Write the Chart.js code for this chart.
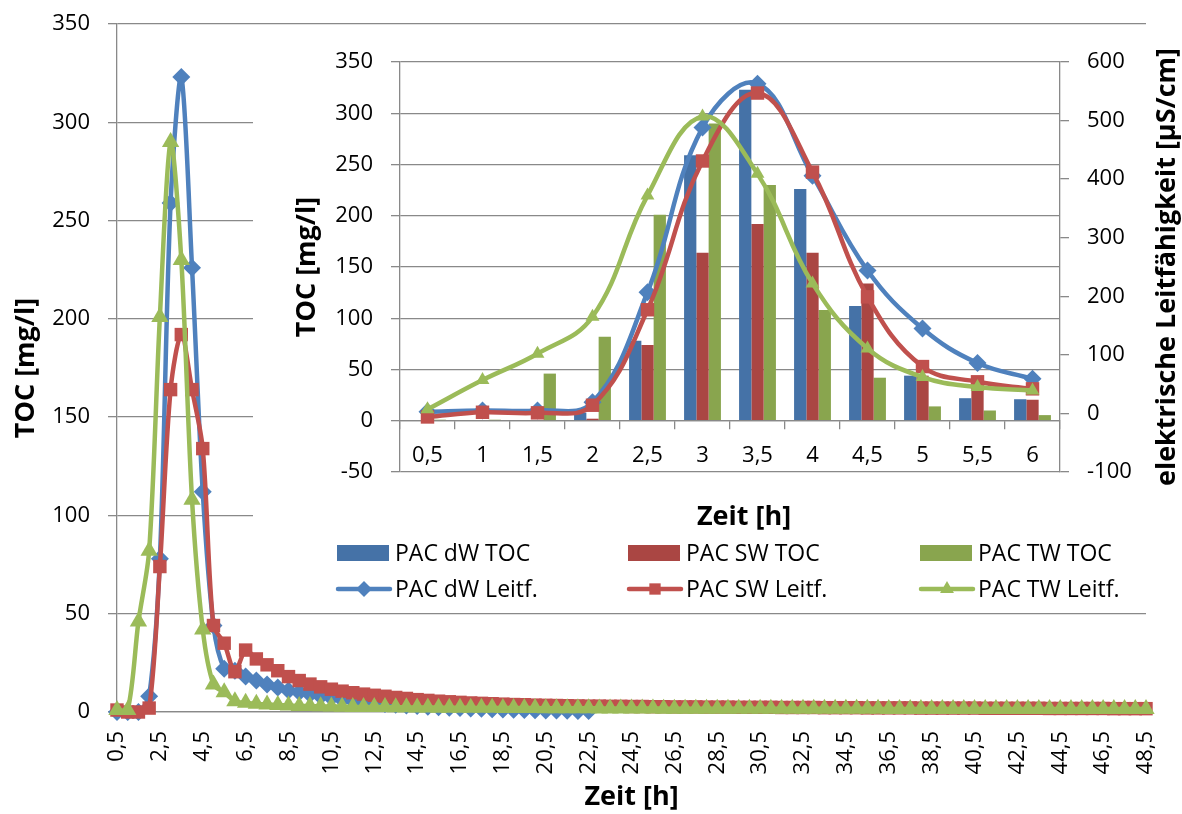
<!DOCTYPE html>
<html>
<head>
<meta charset="utf-8">
<script src="https://cdn.jsdelivr.net/npm/chart.js@4.4.0/dist/chart.umd.min.js"></script>
<style>
  html, body { margin: 0; padding: 0; background: #fff; }
  #wrap { position: relative; width: 1182px; height: 814px; overflow: hidden; }
  #outer { position: absolute; left: 0; top: 0; }
  #inset { position: absolute; left: 253px; top: 30px; background: #fff; }
</style>
</head>
<body>
<div id="wrap">
  <canvas id="outer" width="1182" height="814"></canvas>
  <canvas id="inset" width="929" height="578"></canvas>
</div>
<script>
// Zeit [h], 0,5 ... 48,5
var hours = [0.5,1,1.5,2,2.5,3,3.5,4,4.5,5,5.5,6,6.5,7,7.5,8,8.5,9,9.5,10,
  10.5,11,11.5,12,12.5,13,13.5,14,14.5,15,15.5,16,16.5,17,17.5,18,18.5,19,19.5,20,
  20.5,21,21.5,22,22.5,23,23.5,24,24.5,25,25.5,26,26.5,27,27.5,28,28.5,29,29.5,30,
  30.5,31,31.5,32,32.5,33,33.5,34,34.5,35,35.5,36,36.5,37,37.5,38,38.5,39,39.5,40,
  40.5,41,41.5,42,42.5,43,43.5,44,44.5,45,45.5,46,46.5,47,47.5,48,48.5];

// TOC [mg/l]
var tocDW = [0,0,0,8,78,259,323,226,112,44,
  22,21,18,16,14,12.5,11,10,9,8,
  7.2,6.4,5.7,5.1,4.6,4.1,3.7,3.3,3,2.7,
  2.4,2.2,2,1.8,1.6,1.4,1.3,1.1,1,0.9,
  0.8,0.7,0.6,0.5,0.5,null,null,null,null,null,
  null,null,null,null,null,null,null,null,null,null,
  null,null,null,null,null,null,null,null,null,null,
  null,null,null,null,null,null,null,null,null,null,
  null,null,null,null,null,null,null,null,null,null,
  null,null,null,null,null,null,null];
var tocSW = [1,0,0,2,74,164,192,164,134,44,
  35,20.5,31.5,27,24,21,18,16,14.2,12.8,
  11.6,10.6,9.8,9.1,8.5,8,7.4,6.9,6.3,5.9,
  5.5,5.2,4.9,4.6,4.4,4.2,4,3.8,3.7,3.5,
  3.4,3.3,3.2,3.1,3,3,2.9,2.9,2.8,2.8,
  2.7,2.7,2.6,2.6,2.6,2.5,2.5,2.5,2.4,2.4,
  2.4,2.4,2.3,2.3,2.3,2.3,2.2,2.2,2.2,2.2,
  2.1,2.1,2.1,2.1,2.1,2,2,2,2,2,
  2,1.9,1.9,1.9,1.9,1.9,1.9,1.8,1.8,1.8,
  1.8,1.8,1.8,1.7,1.7,1.7,1.7];
var tocTW = [1,1,46,82,201,290,230,108,42,14,
  10,5.5,4.7,4.2,3.8,3.5,3.3,3.1,3,2.9,
  2.8,2.7,2.6,2.6,2.5,2.5,2.4,2.4,2.3,2.3,
  2.2,2.2,2.2,2.1,2.1,2.1,2,2,2,2,
  1.9,1.9,1.9,1.9,1.9,1.8,1.8,1.8,1.8,1.8,
  1.8,1.7,1.7,1.7,1.7,1.7,1.7,1.7,1.6,1.6,
  1.6,1.6,1.6,1.6,1.6,1.6,1.6,1.6,1.6,1.6,
  1.6,1.6,1.5,1.5,1.5,1.5,1.5,1.5,1.5,1.5,
  1.5,1.5,1.5,1.5,1.5,1.5,1.5,1.5,1.5,1.5,
  1.5,1.5,1.5,1.5,1.5,1.5,1.5];

// inset: first 6 hours
var insetHours = [0.5,1,1.5,2,2.5,3,3.5,4,4.5,5,5.5,6];
// elektrische Leitfaehigkeit [uS/cm]
var leitDW = [3,5,5,19,207,488,563,406,244,145,86,59];
var leitSW = [-6,2,1,14,177,431,547,412,199,80,54,42];
var leitTW = [7,57,102,165,372,507,409,222,111,62,45,39];

var BLUE = '#4F81BD', RED = '#C0504D', GREEN = '#9BBB59';
var BAR_BLUE = '#4572A7', BAR_RED = '#AA4643', BAR_GREEN = '#89A54E';
var GRID = '#898989';

Chart.defaults.font.family = '"Open Sans", sans-serif';
Chart.defaults.color = '#000';

var tickFont = { size: 22 };
var titleFont = { size: 27, weight: 'bold' };

function de(v) { return String(v).replace('.', ','); }

// fixed axis sizes, no extra label padding pushed into the layout
function fixY(w) {
  return function (s) { s.width = w; s.paddingTop = 0; s.paddingBottom = 0; };
}
function fixX(h) {
  return function (s) { s.height = h; s.paddingLeft = 0; s.paddingRight = 0; };
}

// ---------- outer chart ----------
new Chart(document.getElementById('outer'), {
  type: 'line',
  data: {
    labels: hours.map(de),
    datasets: [
      { label: 'PAC dW TOC', data: tocDW, borderColor: BLUE, backgroundColor: BLUE,
        pointStyle: 'rectRot', pointRadius: 9, order: 3 },
      { label: 'PAC SW TOC', data: tocSW, borderColor: RED, backgroundColor: RED,
        pointStyle: 'rect', pointRadius: 9.5, order: 2 },
      { label: 'PAC TW TOC', data: tocTW, borderColor: GREEN, backgroundColor: GREEN,
        pointStyle: 'triangle', pointRadius: 10, order: 1 }
    ]
  },
  options: {
    responsive: false,
    animation: false,
    layout: { autoPadding: false, padding: { top: 24, right: 36, left: 0, bottom: 0 } },
    plugins: { legend: { display: false }, tooltip: { enabled: false } },
    elements: {
      line: { borderWidth: 4.5, tension: 0.3 },
      point: { borderWidth: 0, hoverRadius: 9 }
    },
    datasets: { line: { clip: false } },
    scales: {
      x: {
        grid: { display: false, drawTicks: false },
        border: { display: true, color: GRID, width: 1.3 },
        ticks: {
          autoSkip: false, minRotation: 90, maxRotation: 90, padding: 19, font: tickFont,
          callback: function (v, i) { return i % 4 === 0 ? de(hours[i]) : ''; }
        },
        title: { display: true, text: 'Zeit [h]', font: titleFont, padding: 0 },
        afterFit: fixX(102)
      },
      y: {
        min: 0, max: 350,
        ticks: { stepSize: 50, padding: 18, font: tickFont },
        grid: { color: GRID, lineWidth: 1.3, tickLength: 9 },
        border: { color: GRID, width: 1.3 },
        title: { display: true, text: 'TOC [mg/l]', font: titleFont, padding: { top: 10, bottom: 0 } },
        afterFit: fixY(117)
      }
    }
  }
});

// ---------- inset chart ----------
function drawMarker(ctx, style, x, y, r) {
  ctx.beginPath();
  if (style === 'rectRot') {
    ctx.moveTo(x, y - r); ctx.lineTo(x + r, y); ctx.lineTo(x, y + r); ctx.lineTo(x - r, y);
  } else if (style === 'rect') {
    var h = r * Math.SQRT1_2;
    ctx.rect(x - h, y - h, 2 * h, 2 * h);
  } else {
    ctx.moveTo(x, y - r);
    ctx.lineTo(x + r * Math.cos(Math.PI / 6), y + r / 2);
    ctx.lineTo(x - r * Math.cos(Math.PI / 6), y + r / 2);
  }
  ctx.closePath();
  ctx.fill();
}

var insetDecor = {
  id: 'insetDecor',
  afterDraw: function (chart) {
    var ctx = chart.ctx;
    var area = chart.chartArea;

    ctx.save();
    ctx.font = 'bold 27px "Open Sans"';
    ctx.fillStyle = '#000';
    ctx.textAlign = 'center';
    ctx.textBaseline = 'middle';
    // x title below the plot
    ctx.fillText('Zeit [h]', 491, 487);
    // right axis title, reading bottom to top
    ctx.translate(914, (area.top + area.bottom) / 2);
    ctx.rotate(-Math.PI / 2);
    ctx.fillText('elektrische Leitfähigkeit [µS/cm]', 0, 0);
    ctx.restore();

    // legend: 2 rows x 3 columns
    var cols = [84, 375, 667];
    var rows = [523, 559];
    var sets = chart.data.datasets;
    ctx.save();
    ctx.font = '23px "Open Sans"';
    ctx.textAlign = 'left';
    ctx.textBaseline = 'middle';
    for (var i = 0; i < sets.length; i++) {
      var ds = sets[i];
      var x = cols[i % 3];
      var y = rows[Math.floor(i / 3)];
      if (ds.type === 'line') {
        ctx.strokeStyle = ds.borderColor;
        ctx.lineWidth = 4.5;
        ctx.lineCap = 'round';
        ctx.beginPath();
        ctx.moveTo(x + 1, y); ctx.lineTo(x + 53, y);
        ctx.stroke();
        ctx.fillStyle = ds.backgroundColor;
        drawMarker(ctx, ds.pointStyle, x + 27, y, 8);
      } else {
        ctx.fillStyle = ds.backgroundColor;
        ctx.fillRect(x, y - 8, 52, 16);
      }
      ctx.fillStyle = '#000';
      ctx.fillText(ds.label, x + 58, y + 1);
    }
    ctx.restore();
  }
};

new Chart(document.getElementById('inset'), {
  type: 'bar',
  data: {
    labels: insetHours.map(de),
    datasets: [
      { label: 'PAC dW TOC', data: tocDW.slice(0, 12), backgroundColor: BAR_BLUE,
        xAxisID: 'x', yAxisID: 'y', order: 4 },
      { label: 'PAC SW TOC', data: tocSW.slice(0, 12), backgroundColor: BAR_RED,
        xAxisID: 'x', yAxisID: 'y', order: 5 },
      { label: 'PAC TW TOC', data: tocTW.slice(0, 12), backgroundColor: BAR_GREEN,
        xAxisID: 'x', yAxisID: 'y', order: 6 },
      { type: 'line', label: 'PAC dW Leitf.', data: leitDW, borderColor: BLUE, backgroundColor: BLUE,
        pointStyle: 'rectRot', pointRadius: 9, xAxisID: 'x', yAxisID: 'y2', order: 3 },
      { type: 'line', label: 'PAC SW Leitf.', data: leitSW, borderColor: RED, backgroundColor: RED,
        pointStyle: 'rect', pointRadius: 9.5, xAxisID: 'x', yAxisID: 'y2', order: 2 },
      { type: 'line', label: 'PAC TW Leitf.', data: leitTW, borderColor: GREEN, backgroundColor: GREEN,
        pointStyle: 'triangle', pointRadius: 8, xAxisID: 'x', yAxisID: 'y2', order: 1 }
    ]
  },
  options: {
    responsive: false,
    animation: false,
    layout: { autoPadding: false, padding: { top: 32, right: 0, left: 0, bottom: 136 } },
    plugins: { legend: { display: false }, tooltip: { enabled: false } },
    elements: {
      line: { borderWidth: 4.5, tension: 0.4 },
      point: { borderWidth: 0 }
    },
    datasets: {
      bar: { categoryPercentage: 0.67, barPercentage: 1 },
      line: { clip: false }
    },
    scales: {
      x: {
        position: { y: 0 },
        offset: true,
        grid: { drawOnChartArea: false, offset: true, color: GRID, lineWidth: 1.3, tickLength: 8 },
        border: { color: GRID, width: 1.3 },
        ticks: { padding: 14, font: tickFont },
        afterFit: fixX(0)
      },
      y: {
        position: 'left',
        min: -50, max: 350,
        ticks: { stepSize: 50, padding: 18, font: tickFont },
        grid: { color: GRID, lineWidth: 1.3, tickLength: 9 },
        border: { color: GRID, width: 1.3 },
        title: { display: true, text: 'TOC [mg/l]', font: titleFont, padding: { top: 38, bottom: 0 } },
        afterFit: fixY(147)
      },
      y2: {
        position: 'right',
        min: -100, max: 600,
        ticks: { stepSize: 100, padding: 18, font: tickFont },
        grid: { drawOnChartArea: false, color: GRID, lineWidth: 1.3, tickLength: 9 },
        border: { color: GRID, width: 1.3 },
        afterFit: fixY(122)
      }
    }
  },
  plugins: [insetDecor]
});
</script>
</body>
</html>
